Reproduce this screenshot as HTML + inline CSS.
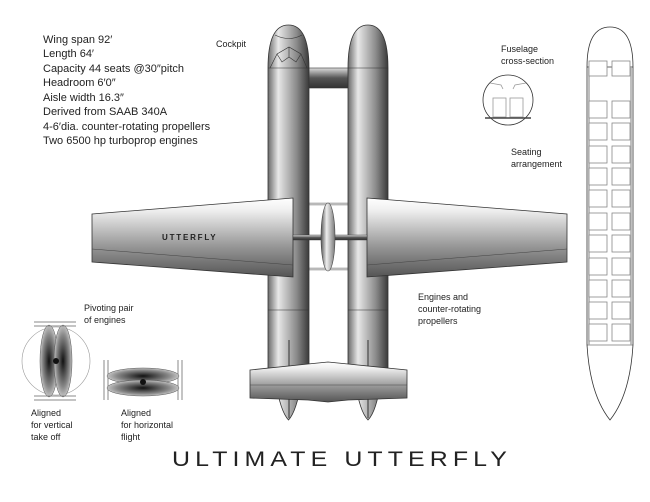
<!DOCTYPE html>
<html><head><meta charset="utf-8"><style>
html,body{margin:0;padding:0;background:#fff;}
svg{display:block;}
text{font-family:"Liberation Sans",sans-serif;fill:#222;}
</style></head><body>
<svg width="650" height="502" viewBox="0 0 650 502" xmlns="http://www.w3.org/2000/svg">
<defs>
<linearGradient id="boom" x1="0" x2="1" y1="0" y2="0">
<stop offset="0" stop-color="#6a6a6a"/><stop offset="0.25" stop-color="#e8e8e8"/><stop offset="0.7" stop-color="#8a8a8a"/><stop offset="1" stop-color="#3a3a3a"/></linearGradient>
<linearGradient id="wing" x1="0" x2="0" y1="0" y2="1">
<stop offset="0" stop-color="#ffffff"/><stop offset="0.15" stop-color="#f0f0f0"/><stop offset="0.6" stop-color="#999"/><stop offset="1" stop-color="#555"/></linearGradient>
<linearGradient id="bar" x1="0" x2="0" y1="0" y2="1">
<stop offset="0" stop-color="#ddd"/><stop offset="0.5" stop-color="#555"/><stop offset="1" stop-color="#333"/></linearGradient>
<linearGradient id="prop" x1="0" x2="1"><stop offset="0" stop-color="#555"/><stop offset="0.4" stop-color="#eee"/><stop offset="1" stop-color="#777"/></linearGradient>
<radialGradient id="eng" cx="0.5" cy="0.5" r="0.6"><stop offset="0" stop-color="#111"/><stop offset="0.6" stop-color="#888"/><stop offset="1" stop-color="#eee"/></radialGradient>
</defs>

<!-- text block -->
<g font-size="11">
<text x="43" y="43">Wing span 92′</text>
<text x="43" y="57">Length 64′</text>
<text x="43" y="72">Capacity 44 seats @30″pitch</text>
<text x="43" y="86">Headroom 6′0″</text>
<text x="43" y="101">Aisle width 16.3″</text>
<text x="43" y="115">Derived from SAAB 340A</text>
<text x="43" y="130">4-6′dia. counter-rotating propellers</text>
<text x="43" y="144">Two 6500 hp turboprop engines</text>
</g>
<text x="216" y="47" font-size="9">Cockpit</text>

<!-- crossbar top -->
<rect x="308" y="68" width="41" height="20" fill="url(#bar)" stroke="#333" stroke-width="0.6"/>
<!-- lower struts -->
<rect x="308" y="203" width="41" height="2" fill="#ccc" stroke="#666" stroke-width="0.4"/>
<rect x="308" y="268" width="41" height="2" fill="#ccc" stroke="#666" stroke-width="0.4"/>

<!-- booms -->
<g stroke="#333" stroke-width="0.8" fill="url(#boom)">
<path d="M268,68 Q268,25 288.5,25 Q309,25 309,68 L309,370 L303,370 Q298,410 288.5,420 Q279,410 274,370 L268,370 Z"/>
<path d="M348,68 Q348,25 368,25 Q388,25 388,68 L388,370 L382,370 Q378,410 368,420 Q358,410 354,370 L348,370 Z"/>
</g>
<g stroke="#333" stroke-width="0.6" fill="none">
<line x1="268" y1="68" x2="309" y2="68"/><line x1="348" y1="68" x2="388" y2="68"/>
<line x1="268" y1="310" x2="309" y2="310"/><line x1="348" y1="310" x2="388" y2="310"/>
<path d="M270,68 L277,54 L289,47 L301,54 L307,68 M277,54 L282,62 L289,57 L296,62 L301,54 M289,47 L289,57"/>
<path d="M275,35 Q289,42 302,35"/>
<line x1="289" y1="340" x2="289" y2="418" stroke-width="1"/>
<line x1="368" y1="340" x2="368" y2="418" stroke-width="1"/>
</g>

<!-- wings -->
<path d="M92,214 L293,198 L293,277 L92,262 Z" fill="url(#wing)" stroke="#333" stroke-width="0.8"/>
<path d="M92,249 L293,265" stroke="#444" stroke-width="0.5"/>
<path d="M367,198 L567,214 L567,262 L367,277 Z" fill="url(#wing)" stroke="#333" stroke-width="0.8"/>
<path d="M367,265 L567,249" stroke="#444" stroke-width="0.5"/>
<text x="162" y="240" font-size="8" letter-spacing="1.8" font-weight="bold" fill="#333">UTTERFLY</text>

<!-- shaft and prop -->
<rect x="293" y="235" width="74" height="5" fill="url(#bar)" stroke="#333" stroke-width="0.4"/>
<ellipse cx="328" cy="237" rx="7" ry="34" fill="url(#prop)" stroke="#444" stroke-width="0.6"/>

<!-- horizontal tail -->
<path d="M250,370 L308,364 L328,362 L348,364 L407,370 L407,398 L348,400 L328,402 L308,400 L250,398 Z" fill="url(#wing)" stroke="#333" stroke-width="0.8"/>
<line x1="250" y1="385" x2="407" y2="385" stroke="#444" stroke-width="0.5"/>

<!-- labels -->
<text x="418" y="300" font-size="9">Engines and</text>
<text x="418" y="312" font-size="9">counter-rotating</text>
<text x="418" y="324" font-size="9">propellers</text>
<text x="501" y="52" font-size="9">Fuselage</text>
<text x="501" y="64" font-size="9">cross-section</text>
<text x="511" y="155" font-size="9">Seating</text>
<text x="511" y="167" font-size="9">arrangement</text>

<!-- cross-section -->
<circle cx="508" cy="100" r="25" fill="#fff" stroke="#333" stroke-width="0.8"/>
<g stroke="#999" stroke-width="0.8" fill="none">
<path d="M490,83 L501,85 L503,89 M526,83 L515,85 L513,89"/>
<rect x="493" y="98" width="13" height="19"/><rect x="510" y="98" width="13" height="19"/>
</g>
<line x1="485" y1="118" x2="531" y2="118" stroke="#444" stroke-width="1.5"/>

<!-- seating plan fuselage -->
<path d="M587,67 Q587,27 610,27 Q633,27 633,67 L633,345 Q630,395 610,420 Q590,395 587,345 Z" fill="#fff" stroke="#333" stroke-width="0.8"/>
<line x1="587" y1="67" x2="633" y2="67" stroke="#333" stroke-width="0.8"/>
<line x1="587" y1="345" x2="633" y2="345" stroke="#333" stroke-width="0.6"/>
<line x1="589" y1="67" x2="589" y2="345" stroke="#aaa" stroke-width="1.5"/>
<line x1="631" y1="67" x2="631" y2="345" stroke="#aaa" stroke-width="1.5"/>
<g stroke="#888" stroke-width="0.8" fill="#fff">
<rect x="589" y="61" width="18" height="15"/><rect x="612" y="61" width="18" height="15"/>
<rect x="589" y="101" width="18" height="17"/><rect x="612" y="101" width="18" height="17"/>
<rect x="589" y="123" width="18" height="17"/><rect x="612" y="123" width="18" height="17"/>
<rect x="589" y="146" width="18" height="17"/><rect x="612" y="146" width="18" height="17"/>
<rect x="589" y="168" width="18" height="17"/><rect x="612" y="168" width="18" height="17"/>
<rect x="589" y="190" width="18" height="17"/><rect x="612" y="190" width="18" height="17"/>
<rect x="589" y="213" width="18" height="17"/><rect x="612" y="213" width="18" height="17"/>
<rect x="589" y="235" width="18" height="17"/><rect x="612" y="235" width="18" height="17"/>
<rect x="589" y="258" width="18" height="17"/><rect x="612" y="258" width="18" height="17"/>
<rect x="589" y="280" width="18" height="17"/><rect x="612" y="280" width="18" height="17"/>
<rect x="589" y="302" width="18" height="17"/><rect x="612" y="302" width="18" height="17"/>
<rect x="589" y="324" width="18" height="17"/><rect x="612" y="324" width="18" height="17"/>
</g>

<!-- pivoting engines -->
<text x="84" y="311" font-size="9">Pivoting pair</text>
<text x="84" y="323" font-size="9">of engines</text>
<circle cx="56" cy="361" r="34" fill="none" stroke="#999" stroke-width="0.6"/>
<ellipse cx="49" cy="361" rx="9" ry="36" fill="url(#eng)" stroke="#555" stroke-width="0.5"/>
<ellipse cx="63" cy="361" rx="9" ry="36" fill="url(#eng)" stroke="#555" stroke-width="0.5"/>
<g stroke="#888" stroke-width="1">
<line x1="34" y1="322" x2="76" y2="322"/><line x1="34" y1="326" x2="76" y2="326"/>
<line x1="34" y1="396" x2="76" y2="396"/><line x1="34" y1="400" x2="76" y2="400"/>
<line x1="104" y1="360" x2="104" y2="400"/><line x1="108" y1="360" x2="108" y2="400"/>
<line x1="178" y1="360" x2="178" y2="400"/><line x1="182" y1="360" x2="182" y2="400"/>
</g>
<circle cx="56" cy="361" r="3" fill="#111"/>
<ellipse cx="143" cy="376" rx="36" ry="8" fill="url(#eng)" stroke="#555" stroke-width="0.5"/>
<ellipse cx="143" cy="388" rx="36" ry="8" fill="url(#eng)" stroke="#555" stroke-width="0.5"/>
<circle cx="143" cy="382" r="3" fill="#111"/>
<text x="31" y="416" font-size="9">Aligned</text>
<text x="31" y="428" font-size="9">for vertical</text>
<text x="31" y="440" font-size="9">take off</text>
<text x="121" y="416" font-size="9">Aligned</text>
<text x="121" y="428" font-size="9">for horizontal</text>
<text x="121" y="440" font-size="9">flight</text>

<!-- title -->
<text x="172" y="466" font-size="21" letter-spacing="4.3" fill="#1a1a1a" textLength="340" lengthAdjust="spacingAndGlyphs">ULTIMATE UTTERFLY</text>
</svg>
</body></html>
